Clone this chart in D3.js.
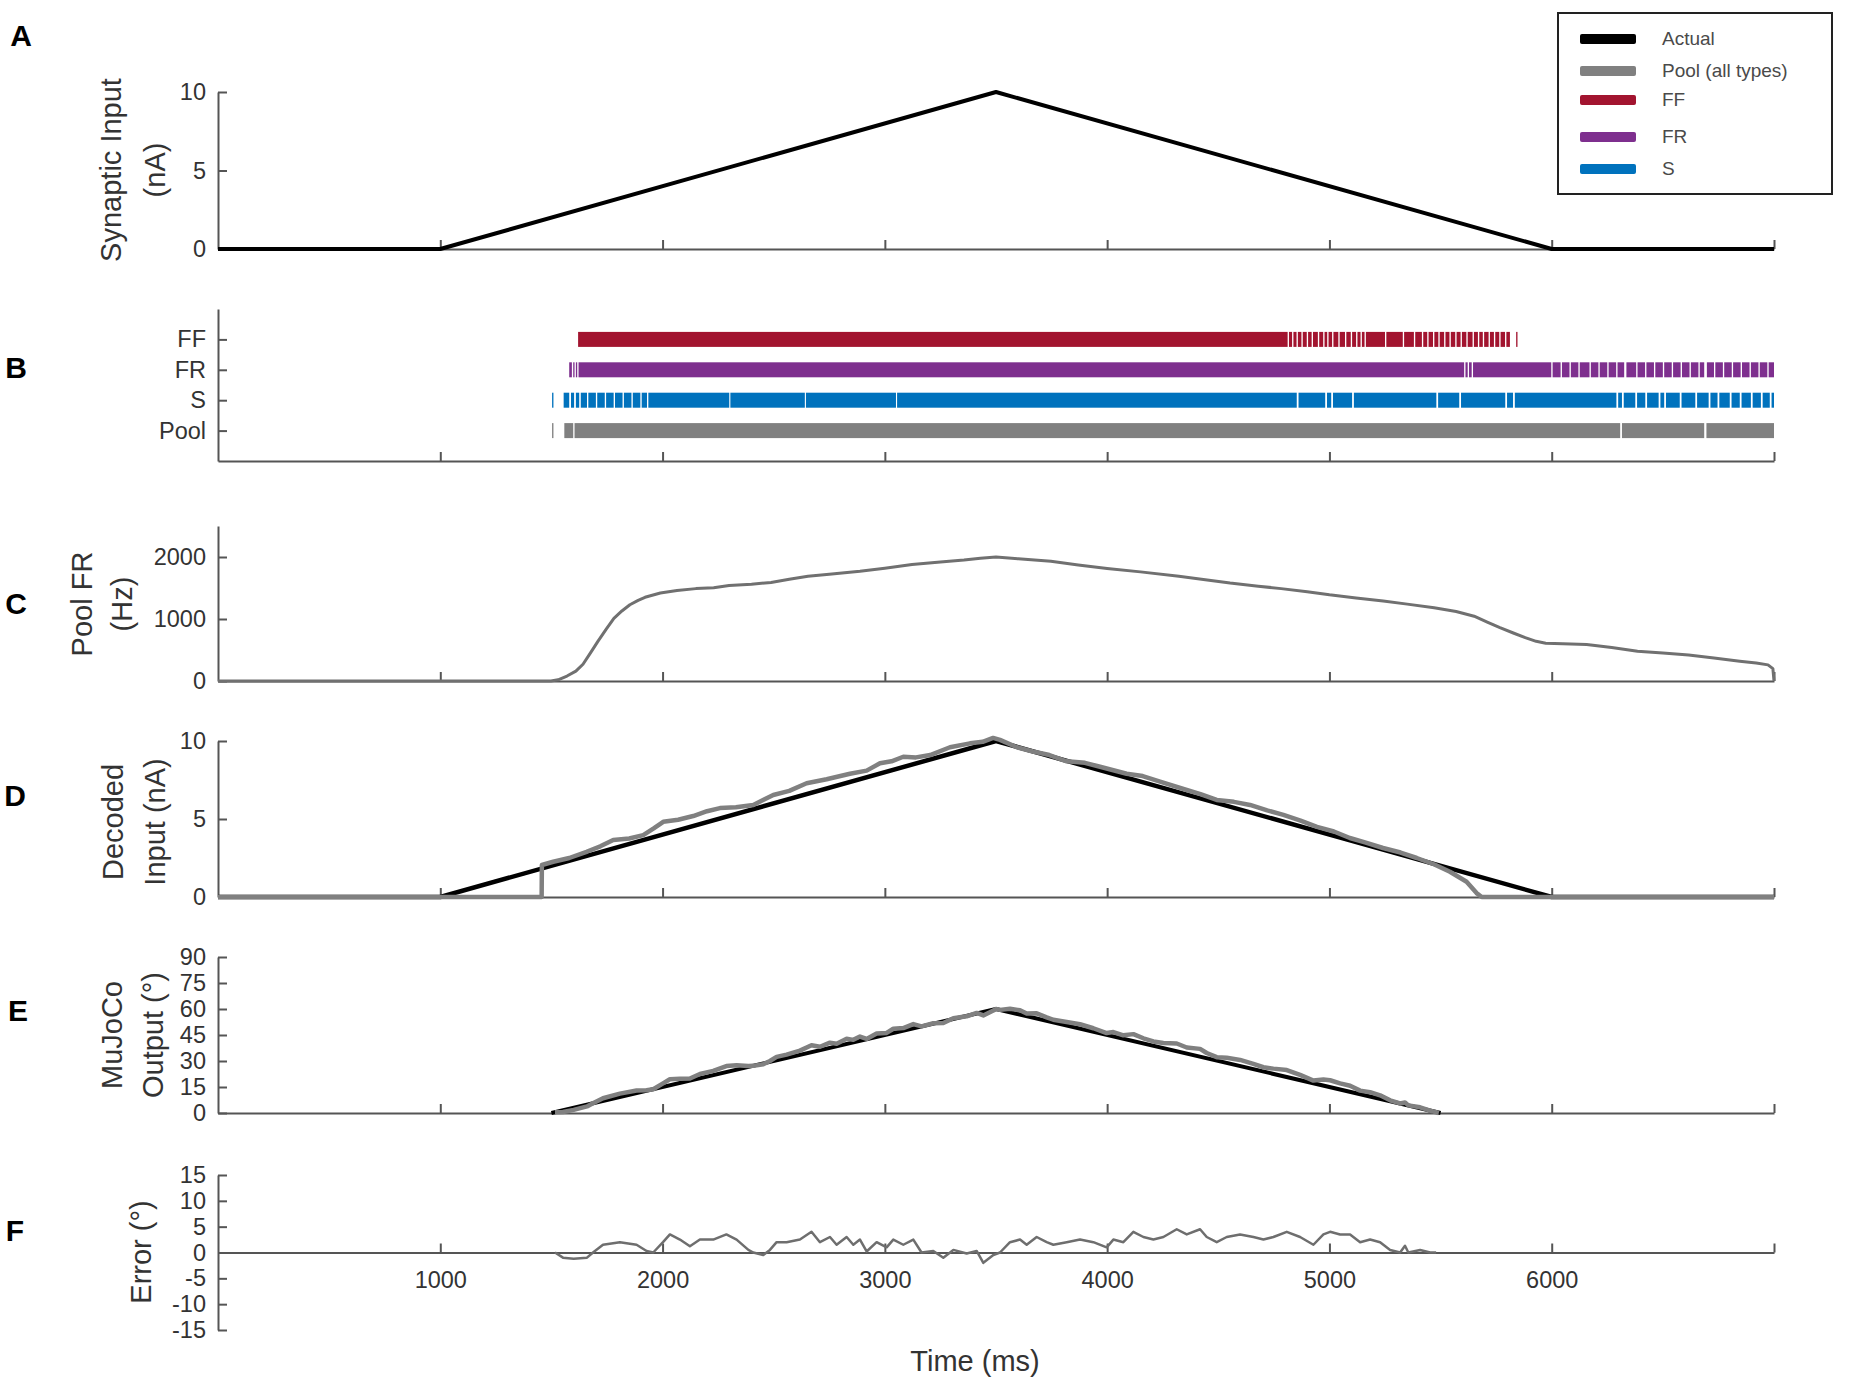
<!DOCTYPE html>
<html lang="en">
<head>
  <meta charset="UTF-8">
  <title>Motor pool decoding</title>
  <script src="https://d3js.org/d3.v7.min.js"></script>
  <style>
    body { margin: 0; background: #fff; font-family: "Liberation Sans", Arial, sans-serif; }
    svg text { font-family: "Liberation Sans", Arial, sans-serif; }
  </style>
</head>
<body>
<div id="chart"></div>
<script>
  // ---- data (ms on x) ----
  const xTicks = [1000, 2000, 3000, 4000, 5000, 6000, 7000];

  // A: synaptic input (nA)
  const inputT = [0, 1000, 3500, 6000, 7000];
  const inputNA = [0, 0, 10, 0, 0];

  // B: spike raster, solid stretches [start, end] ms per row
  const rasterRows = ["Pool", "S", "FR", "FF"];
  const rasterFF = [[1620,4812],[4818,4832],[4838,4852],[4858,4874],[4880,4898],[4904,4920],[4926,4948],[4954,4972],
    [4978,4990],[4996,5012],[5018,5040],[5046,5070],[5076,5096],[5102,5120],[5126,5140],[5146,5158],[5164,5250],
    [5256,5330],[5336,5380],[5386,5416],[5422,5440],[5446,5466],[5472,5490],[5496,5516],[5522,5540],[5546,5566],
    [5572,5590],[5596,5616],[5622,5644],[5650,5668],[5674,5690],[5696,5716],[5722,5740],[5746,5764],[5770,5790],
    [5796,5812],[5840,5846]];
  const rasterFR = [[1580,1592],[1598,1604],[1610,1616],[1622,5606],[5612,5622],[5628,5640],[5646,5998],[6004,6040],
    [6046,6080],[6086,6120],[6126,6170],[6176,6210],[6216,6250],[6256,6290],[6296,6326],[6336,6380],[6386,6420],
    [6426,6460],[6466,6500],[6506,6540],[6546,6580],[6586,6620],[6626,6660],[6666,6686],[6698,6730],[6736,6770],
    [6776,6810],[6816,6850],[6856,6890],[6896,6930],[6936,6970],[6976,7000]];
  const rasterS = [[1503,1509],[1555,1580],[1588,1602],[1610,1625],[1632,1660],[1666,1700],[1706,1740],[1746,1780],
    [1786,1820],[1826,1860],[1866,1900],[1906,1930],[1936,2300],[2305,2640],[2645,3050],[3055,4853],[4861,4981],
    [4989,5008],[5016,5102],[5110,5481],[5489,5584],[5592,5791],[5799,5826],[5834,6291],[6299,6316],[6324,6376],
    [6384,6421],[6429,6481],[6489,6506],[6514,6576],[6584,6646],[6654,6706],[6714,6746],[6754,6801],[6809,6846],
    [6854,6896],[6904,6941],[6949,6981],[6989,7000]];
  const rasterPool = [[1503,1509],[1558,1598],[1604,6308],[6316,6686],[6696,7000]];

  // C: pool firing rate (Hz)
  const poolT = [0,1498,1530,1570,1610,1642,1675,1709,1745,1781,1817,1853,1890,1921,1990,2065,2150,2230,2299,2400,
    2488,2570,2654,2750,2888,3000,3122,3250,3356,3430,3500,3600,3747,3870,4000,4150,4323,4450,4553,4680,4783,4900,
    5000,5120,5242,5350,5471,5570,5651,5710,5767,5830,5881,5930,5973,6050,6157,6270,6386,6500,6616,6730,6846,6920,
    6973,6995,7000];
  const poolHz = [0,0,20,80,160,270,450,640,830,1010,1130,1230,1300,1350,1420,1460,1490,1505,1540,1560,
    1590,1640,1690,1720,1770,1820,1880,1920,1950,1980,2000,1970,1930,1870,1815,1760,1690,1630,1580,1530,1490,1440,
    1390,1340,1290,1240,1180,1120,1045,950,860,770,700,640,610,600,590,540,480,450,420,370,320,290,
    260,200,0];

  // D: decoded input (nA)
  const decT = [0,1456,1457,1508,1580,1658,1720,1778,1850,1913,1960,2003,2070,2138,2200,2258,2330,2408,2450,2498,
    2570,2648,2738,2843,2918,2978,3030,3083,3140,3204,3293,3383,3440,3487,3518,3594,3666,3740,3818,3900,3968,4088,
    4160,4238,4358,4420,4493,4570,4643,4720,4793,4870,4944,5020,5092,5160,5241,5320,5393,5470,5542,5617,5662,5685,7000];
  const decNA = [0,0,2.05,2.26,2.5,2.9,3.25,3.65,3.75,3.97,4.4,4.82,4.95,5.19,5.5,5.7,5.75,5.9,6.2,6.54,
    6.8,7.29,7.55,7.9,8.1,8.57,8.7,8.99,8.95,9.1,9.6,9.85,9.95,10.2,10.07,9.6,9.33,9.1,8.7,8.6,8.35,7.9,
    7.75,7.4,6.86,6.6,6.22,6.1,5.9,5.55,5.26,4.9,4.5,4.2,3.78,3.5,3.14,2.85,2.5,2.1,1.62,0.98,0.25,0,0];

  // E: MuJoCo joint angle (deg)
  const mujocoActT = [1500, 3500, 5500];
  const mujocoActDeg = [0, 60, 0];
  const mujocoOutT = [1516,1552,1600,1660,1687,1732,1808,1883,1928,1958,2002,2033,2078,2123,2168,2228,2287,2333,2386,
    2408,2453,2483,2513,2558,2618,2670,2708,2753,2783,2828,2858,2888,2918,2963,3008,3038,3083,3128,3165,3218,3263,
    3308,3368,3413,3443,3488,3500,3518,3563,3608,3638,3683,3728,3758,3818,3878,3938,3998,4028,4073,4118,4163,4208,
    4253,4313,4358,4418,4448,4493,4538,4598,4658,4703,4748,4808,4868,4928,4973,5003,5048,5093,5138,5183,5228,5273,
    5318,5340,5355,5408,5453,5492];
  const mujocoOutDeg = [0.5,0.6,1.8,3.8,5.6,8.5,11.2,13.0,13.1,13.7,17.1,19.5,19.8,19.9,22.5,24.3,27.1,27.5,27.1,
    27.2,28.1,30.0,32.4,33.7,36.0,39.1,38.2,40.6,40.0,42.8,42.2,44.1,42.7,45.9,46.2,48.6,49.0,51.3,50.0,51.8,51.9,
    54.7,55.8,57.7,56.3,59.1,60.0,59.5,60.1,59.3,57.4,57.5,55.2,53.8,52.5,51.2,48.9,46.1,46.7,44.8,45.5,43.1,41.3,
    40.4,40.1,37.8,37.0,34.6,32.2,31.9,30.6,28.3,26.4,25.6,24.8,22.0,18.7,19.3,18.9,17.1,15.7,12.9,12.0,10.2,7.3,
    5.5,6.1,4.4,3.3,1.4,0];

  // F: error (deg)
  const errT = [1516,1552,1600,1660,1687,1732,1808,1883,1928,1958,2002,2033,2078,2123,2168,2228,2287,2333,2386,
    2408,2453,2483,2513,2558,2618,2670,2708,2753,2783,2828,2858,2888,2918,2963,3008,3038,3083,3128,3165,3218,3263,
    3308,3368,3413,3443,3488,3518,3563,3608,3638,3683,3728,3758,3818,3878,3938,3998,4028,4073,4118,4163,4208,
    4253,4313,4358,4418,4448,4493,4538,4598,4658,4703,4748,4808,4868,4928,4973,5003,5048,5093,5138,5183,5228,5273,
    5318,5340,5355,5408,5453,5480];
  const errDeg = [0,-1,-1.2,-1,0,1.5,2,1.5,0.3,0,2,3.5,2.5,1.2,2.5,2.5,3.5,2.5,0.5,
    0,-0.5,0.5,2,2,2.5,4,2,3,1.5,3,1.5,2.5,0.2,2,1,2.5,1.5,2.5,0,0.3,-1,
    0.5,-0.2,0.3,-2,-0.5,0,2,2.5,1.5,3,2,1.5,2,2.5,2,1,2.5,2,4,3,2.5,
    3,4.5,3.5,4.5,3,2,3,3.5,3,2.5,3,4,3,1.5,3.5,4,3.5,3.5,2,2.5,2,0.5,
    0,1.3,0,0.5,0,0];

  const legendLabels = ["Actual", "Pool (all types)", "FF", "FR", "S"];
  const legendColors = ["#000000", "#808080", "#a2142f", "#7e2f8e", "#0072bd"];

  // ---- layout ----
  const width = 1850, height = 1399;
  const axisColor = "#555";
  const textColor = "#333";
  const grey = "#808080";

  const svg = d3.select("#chart").append("svg")
    .attr("width", width).attr("height", height);

  const x = d3.scaleLinear().domain([0, 7000]).range([218, 1774]);

  const panels = {
    A: { domain: [0, 10], range: [249, 92], ticks: [0, 5, 10] },
    B: { domain: [0, 5], range: [461, 309], ticks: [1, 2, 3, 4] },
    C: { domain: [0, 2500], range: [681, 526], ticks: [0, 1000, 2000] },
    D: { domain: [0, 10], range: [897, 741], ticks: [0, 5, 10] },
    E: { domain: [0, 90], range: [1113, 957], ticks: [0, 15, 30, 45, 60, 75, 90] },
    F: { domain: [-15, 15], range: [1330, 1175], ticks: [-15, -10, -5, 0, 5, 10, 15] }
  };

  function styleAxis(g) {
    g.attr("color", axisColor);
    g.select(".domain").attr("stroke-width", 2);
    g.selectAll(".tick line").attr("stroke-width", 2);
    g.selectAll("text").attr("fill", textColor).attr("font-size", 23.5)
      .attr("font-family", "'Liberation Sans', Arial, sans-serif");
  }

  const scales = {};
  Object.entries(panels).forEach(([key, p]) => {
    const y = d3.scaleLinear().domain(p.domain).range(p.range);
    scales[key] = y;

    const yAxis = d3.axisLeft(y).tickValues(p.ticks).tickSizeInner(-9).tickSizeOuter(0).tickPadding(12)
      .tickFormat(d => key === "B" ? rasterRows[d - 1] : String(d));
    svg.append("g").attr("transform", `translate(${x(0)},0)`).call(yAxis).call(styleAxis);

    const xAxis = d3.axisBottom(x).tickValues(xTicks).tickSizeInner(-9).tickSizeOuter(0).tickPadding(19);
    const base = key === "F" ? y(0) : p.range[0];
    xAxis.tickFormat(d => key === "F" && d < 7000 ? String(d) : "");
    svg.append("g").attr("transform", `translate(0,${base})`).call(xAxis).call(styleAxis);
  });

  const line = (xs, ys, y) => d3.line().x((d, i) => x(xs[i])).y((d, i) => y(ys[i]))(xs);

  // A
  svg.append("path").attr("d", line(inputT, inputNA, scales.A))
    .attr("fill", "none").attr("stroke", "#000").attr("stroke-width", 4).attr("stroke-linejoin", "round");

  // B raster
  const rasterSets = [
    { row: 4, data: rasterFF, color: legendColors[2] },
    { row: 3, data: rasterFR, color: legendColors[3] },
    { row: 2, data: rasterS, color: legendColors[4] },
    { row: 1, data: rasterPool, color: legendColors[1] }
  ];
  rasterSets.forEach(r => {
    svg.append("g").selectAll("rect").data(r.data).join("rect")
      .attr("x", d => x(d[0]))
      .attr("width", d => Math.max(1.2, x(d[1]) - x(d[0])))
      .attr("y", scales.B(r.row) - 7.5)
      .attr("height", 15)
      .attr("fill", r.color);
  });

  // C
  svg.append("path").attr("d", line(poolT, poolHz, scales.C))
    .attr("fill", "none").attr("stroke", "#707070").attr("stroke-width", 3).attr("stroke-linejoin", "round");

  // D
  svg.append("path").attr("d", line(inputT, inputNA, scales.D))
    .attr("fill", "none").attr("stroke", "#000").attr("stroke-width", 4.5).attr("stroke-linejoin", "round");
  svg.append("path").attr("d", line(decT, decNA, scales.D))
    .attr("fill", "none").attr("stroke", grey).attr("stroke-width", 4.5).attr("stroke-linejoin", "round");

  // E
  svg.append("path").attr("d", line(mujocoActT, mujocoActDeg, scales.E))
    .attr("fill", "none").attr("stroke", "#000").attr("stroke-width", 4).attr("stroke-linejoin", "round");
  svg.append("path").attr("d", line(mujocoOutT, mujocoOutDeg, scales.E))
    .attr("fill", "none").attr("stroke", grey).attr("stroke-width", 4.5).attr("stroke-linejoin", "round");

  // F
  svg.append("path").attr("d", line(errT, errDeg, scales.F))
    .attr("fill", "none").attr("stroke", "#6e6e6e").attr("stroke-width", 2.5).attr("stroke-linejoin", "round");

  // y labels
  const yLabels = [
    { lines: ["Synaptic Input", "(nA)"], xs: [121, 165], cy: 170 },
    { lines: ["Pool FR", "(Hz)"], xs: [92, 132], cy: 604 },
    { lines: ["Decoded", "Input (nA)"], xs: [123, 165], cy: 822 },
    { lines: ["MuJoCo", "Output (°)"], xs: [122, 163], cy: 1035 },
    { lines: ["Error (°)"], xs: [151], cy: 1252 }
  ];
  yLabels.forEach(l => {
    l.lines.forEach((t, i) => {
      svg.append("text")
        .attr("transform", `translate(${l.xs[i]},${l.cy}) rotate(-90)`)
        .attr("text-anchor", "middle")
        .attr("font-size", 29)
        .attr("fill", textColor)
        .text(t);
    });
  });

  svg.append("text").attr("x", 975).attr("y", 1371).attr("text-anchor", "middle")
    .attr("font-size", 29).attr("fill", textColor).text("Time (ms)");

  // panel letters
  const letters = [["A", 21, 46], ["B", 16, 378], ["C", 16, 614], ["D", 15, 806], ["E", 18, 1021], ["F", 15, 1241]];
  svg.selectAll(".letter").data(letters).join("text")
    .attr("class", "letter")
    .attr("x", d => d[1]).attr("y", d => d[2])
    .attr("text-anchor", "middle")
    .attr("font-size", 30).attr("font-weight", "bold").attr("fill", "#000")
    .text(d => d[0]);

  // legend
  const legend = svg.append("g");
  legend.append("rect").attr("x", 1558).attr("y", 13).attr("width", 274).attr("height", 181)
    .attr("fill", "#fff").attr("stroke", "#222").attr("stroke-width", 2);
  const legendY = [39, 71, 100, 137, 169];
  legendLabels.forEach((lab, i) => {
    legend.append("rect").attr("x", 1580).attr("width", 56)
      .attr("y", legendY[i] - 5).attr("height", 10).attr("rx", 2)
      .attr("fill", legendColors[i]);
    legend.append("text").attr("x", 1662).attr("y", legendY[i] + 6)
      .attr("font-family", "Lato, 'Open Sans', sans-serif")
      .attr("font-size", 19).attr("fill", "#4a4a4a").text(lab);
  });
</script>
</body>
</html>
